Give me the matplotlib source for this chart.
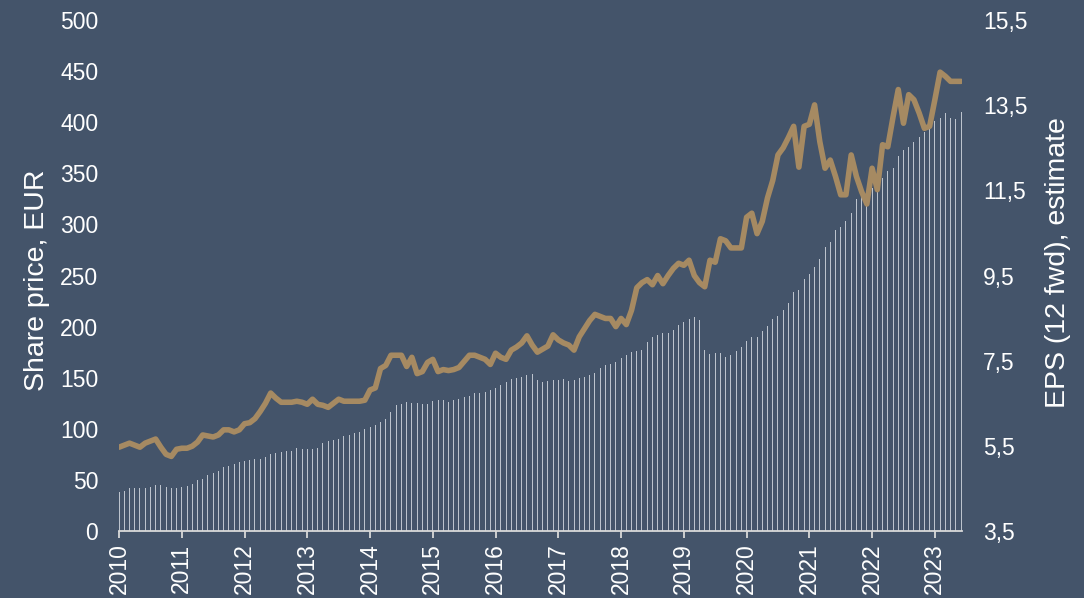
import matplotlib
matplotlib.use("Agg")
import matplotlib.pyplot as plt
import numpy as np

# monthly data, Jan 2010 .. Jun 2023
start_year = 2010
share_price = [
    82, 84, 86, 84, 82, 86, 88, 90, 82, 75, 73, 80,
    81, 81, 83, 87, 94, 93, 92, 94, 99, 99, 97, 99,
    105, 106, 110, 117, 125, 135, 130, 126, 126, 126, 127, 126,
    124, 129, 124, 123, 121, 125, 129, 127, 127, 127, 127, 128,
    138, 140, 159, 162, 172, 172, 172, 161, 170, 154, 156, 165,
    168, 156, 158, 157, 158, 160, 166, 172, 172, 170, 168, 163,
    174, 170, 168, 177, 180, 184, 191, 182, 175, 178, 181, 192,
    187, 184, 182, 177, 190, 198, 206, 212, 210, 208, 208, 200,
    208, 202, 216, 238, 243, 246, 241, 250, 242, 250, 257, 262,
    260, 265, 250, 243, 239, 265, 263, 286, 284, 277, 277, 277,
    307, 311, 291, 303, 326, 343, 368, 375, 385, 396, 356, 396,
    398, 417, 381, 355, 363, 347, 329, 329, 368, 347, 332, 320,
    355, 334, 378, 376, 405, 432, 399, 427, 422, 409, 394, 396,
    422, 449, 445, 440, 440, 440,
]
eps_fwd = [
    4.41, 4.44, 4.50, 4.50, 4.50, 4.52, 4.54, 4.57, 4.57, 4.54, 4.52, 4.52,
    4.54, 4.56, 4.60, 4.70, 4.72, 4.82, 4.87, 4.92, 5.00, 5.03, 5.07, 5.13,
    5.14, 5.17, 5.18, 5.19, 5.23, 5.31, 5.34, 5.36, 5.38, 5.39, 5.44, 5.42,
    5.42, 5.42, 5.44, 5.56, 5.61, 5.64, 5.65, 5.72, 5.75, 5.81, 5.83, 5.90,
    5.95, 5.99, 6.07, 6.14, 6.30, 6.45, 6.49, 6.52, 6.51, 6.50, 6.49, 6.49,
    6.56, 6.57, 6.57, 6.52, 6.57, 6.60, 6.64, 6.67, 6.73, 6.75, 6.77, 6.81,
    6.85, 6.93, 7.00, 7.06, 7.09, 7.12, 7.16, 7.19, 7.04, 7.00, 7.02, 7.04,
    7.04, 7.06, 7.03, 7.04, 7.09, 7.11, 7.16, 7.22, 7.32, 7.39, 7.43, 7.48,
    7.56, 7.63, 7.70, 7.73, 7.76, 7.94, 8.06, 8.10, 8.14, 8.14, 8.22, 8.34,
    8.42, 8.47, 8.52, 8.46, 7.75, 7.65, 7.68, 7.68, 7.59, 7.63, 7.72, 7.82,
    7.96, 8.06, 8.06, 8.20, 8.32, 8.49, 8.56, 8.68, 8.85, 9.12, 9.16, 9.43,
    9.54, 9.69, 9.88, 10.17, 10.29, 10.57, 10.65, 10.77, 10.96, 11.30, 11.37, 11.47,
    11.56, 11.66, 11.78, 11.96, 12.02, 12.31, 12.45, 12.51, 12.64, 12.76, 12.88, 12.98,
    13.14, 13.21, 13.32, 13.19, 13.17, 13.34,
]
years = list(range(2010, 2024))
price_ticks = list(range(0, 501, 50))
eps_ticks = [3.5, 5.5, 7.5, 9.5, 11.5, 13.5, 15.5]

bg = "#44546A"
txt = "#FFFFFF"
plt.rcParams["font.family"] = ["Liberation Sans", "DejaVu Sans"]

t = start_year + np.arange(len(share_price)) / 12

fig = plt.figure(figsize=(10.84, 5.98), dpi=100, facecolor=bg)
ax = fig.add_axes([0.1098, 0.112, 0.7777, 0.8545])
ax2 = ax.twinx()
ax.set_zorder(ax2.get_zorder() + 1)
ax.patch.set_visible(False)
ax2.set_facecolor(bg)

ax2.bar(t, eps_fwd, width=0.016, color="#BCC3CD", linewidth=0)
ax.plot(t, share_price, color="#A68A62", lw=4, solid_joinstyle="round",
        solid_capstyle="round")

ax.set_xlim(2010, 2010 + 161.2 / 12)
ax.set_ylim(0, 500)
ax2.set_ylim(3.5, 15.5)

ax.set_yticks(price_ticks)
ax2.set_yticks(eps_ticks)
ax2.set_yticklabels([f"{v:.1f}".replace(".", ",") for v in eps_ticks])
ax.set_xticks(years)
ax.set_xticklabels([str(y) for y in years], rotation=90)

for a in (ax, ax2):
    for s in a.spines.values():
        s.set_visible(False)
ax.spines["bottom"].set_visible(True)
ax.spines["bottom"].set_color("#D9D9D9")
ax.spines["bottom"].set_linewidth(1.3)

ax.tick_params(axis="y", length=0, pad=15, labelsize=16.5, labelcolor=txt)
ax2.tick_params(axis="y", length=0, pad=15, labelsize=16.5, labelcolor=txt)
ax.tick_params(axis="x", length=5, width=1.3, color="#D9D9D9", pad=4,
               labelsize=16.5, labelcolor=txt)

ax.set_ylabel("Share price, EUR", color=txt, fontsize=20.5)
ax2.set_ylabel("EPS (12 fwd), estimate", color=txt, fontsize=20.5)
for lab in (ax.yaxis.label, ax2.yaxis.label):
    lab.set_rotation_mode("anchor")
    lab.set_va("center")
    lab.set_ha("center")
ax.yaxis.set_label_coords(-0.097, 0.49)
ax2.yaxis.set_label_coords(1.114, 0.525)

fig.savefig("out.png", dpi=100, facecolor=bg)
